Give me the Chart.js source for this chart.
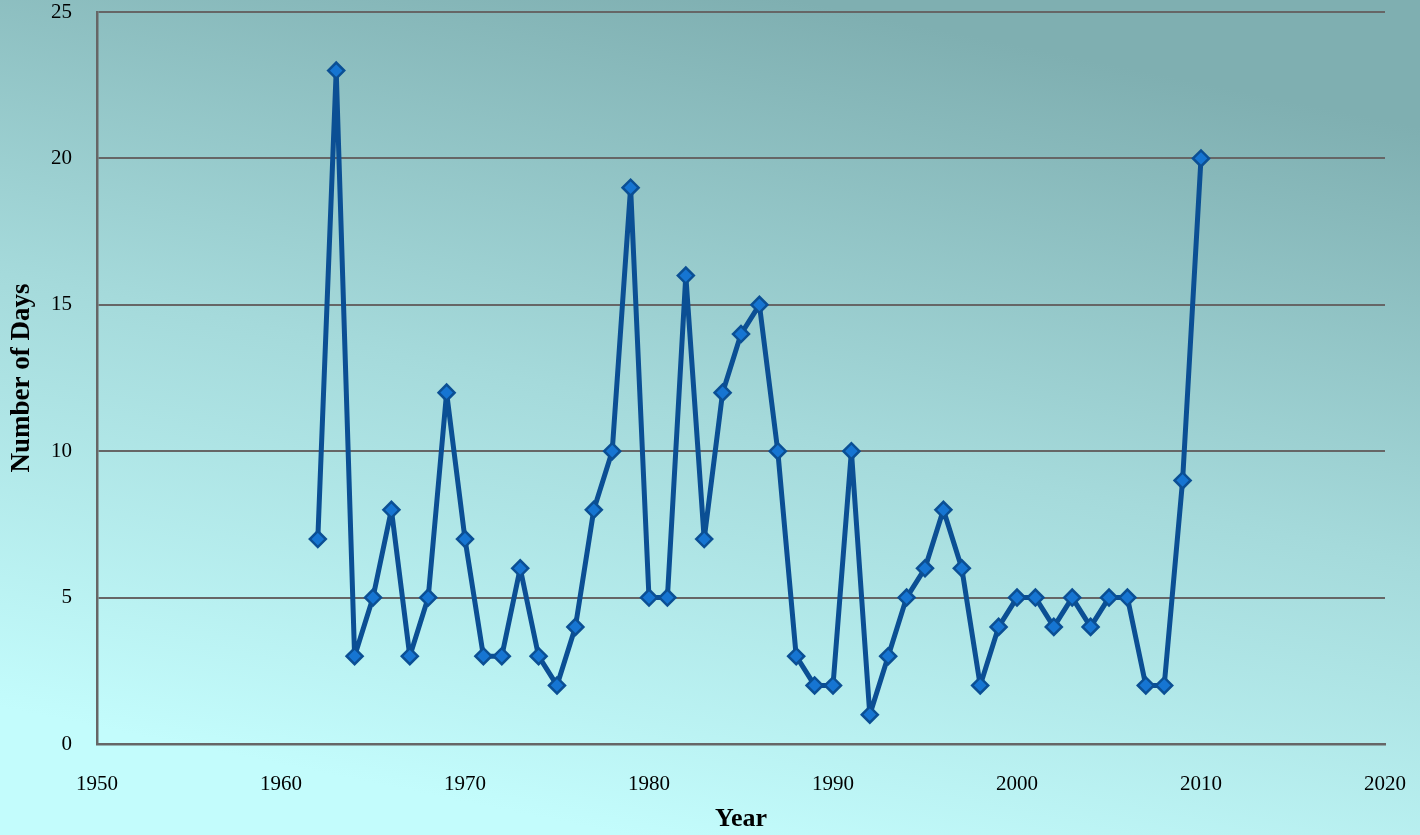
<!DOCTYPE html>
<html lang="en">
<head>
  <meta charset="utf-8">
  <title>Number of Days per Year</title>
  <script src="https://cdn.jsdelivr.net/npm/chart.js@4/dist/chart.umd.min.js"></script>
  <style>
    html, body { margin: 0; padding: 0; background: #c2fafa; }
    #wrap { width: 1420px; height: 835px; }
  </style>
</head>
<body>
  <div id="wrap">
    <canvas id="mychart" width="1420" height="835"></canvas>
  </div>

  <script>
    // values
    var years = [1962, 1963, 1964, 1965, 1966, 1967, 1968, 1969, 1970, 1971,
                 1972, 1973, 1974, 1975, 1976, 1977, 1978, 1979, 1980, 1981,
                 1982, 1983, 1984, 1985, 1986, 1987, 1988, 1989, 1990, 1991,
                 1992, 1993, 1994, 1995, 1996, 1997, 1998, 1999, 2000, 2001,
                 2002, 2003, 2004, 2005, 2006, 2007, 2008, 2009, 2010];
    var days = [7, 23, 3, 5, 8, 3, 5, 12, 7, 3,
                3, 6, 3, 2, 4, 8, 10, 19, 5, 5,
                16, 7, 12, 14, 15, 10, 3, 2, 2, 10,
                1, 3, 5, 6, 8, 6, 2, 4, 5, 5,
                4, 5, 4, 5, 5, 2, 2, 9, 20];
    var xTicks = [1950, 1960, 1970, 1980, 1990, 2000, 2010, 2020];
    var yTicks = [0, 5, 10, 15, 20, 25];

    var points = [];
    for (var i = 0; i < years.length; i++) {
      points.push({ x: years[i], y: days[i] });
    }

    var serif = "'Liberation Serif', 'DejaVu Serif', serif";

    // whole-canvas gradient behind the chart
    var bgPlugin = {
      id: 'bg',
      beforeDraw: function (chart) {
        var c = chart.ctx;
        var g = c.createLinearGradient(chart.width * 0.56, 0, chart.width * 0.44, chart.height);
        g.addColorStop(0, '#7fafb1');
        g.addColorStop(0.5, '#a5dadb');
        g.addColorStop(1, '#c3fcfc');
        c.save();
        c.fillStyle = g;
        c.fillRect(0, 0, chart.width, chart.height);
        c.restore();
      }
    };

    var ctx = document.getElementById('mychart').getContext('2d');
    var chart = new Chart(ctx, {
      type: 'line',
      data: {
        datasets: [{
          label: 'Number of Days',
          data: points,
          borderColor: '#0b4f94',
          borderWidth: 5,
          borderJoinStyle: 'bevel',
          tension: 0,
          pointStyle: 'rectRot',
          pointRadius: 8,
          pointBorderWidth: 2.5,
          pointBackgroundColor: '#1675d2',
          pointBorderColor: '#0b4f94'
        }]
      },
      plugins: [bgPlugin],
      options: {
        responsive: false,
        animation: false,
        layout: {
          autoPadding: false,
          padding: { top: 12, right: 35, bottom: 0, left: 0 }
        },
        plugins: {
          legend: { display: false },
          tooltip: { enabled: false }
        },
        scales: {
          x: {
            type: 'linear',
            min: 1950,
            max: 2020,
            afterBuildTicks: function (axis) {
              axis.ticks = xTicks.map(function (v) { return { value: v }; });
            },
            grid: { display: false },
            border: { display: true, color: '#666666', width: 2.5 },
            ticks: {
              color: '#000',
              padding: 20,
              maxRotation: 0,
              font: { family: serif, size: 21 },
              callback: function (v) { return String(v); }
            },
            title: {
              display: true,
              text: 'Year',
              color: '#000',
              padding: { top: 4, bottom: 0 },
              font: { family: serif, size: 26, weight: 'bold' }
            },
            afterFit: function (axis) {
              axis.height = 91;
              // label overflow should not shrink the plot
              axis.paddingLeft = 0;
              axis.paddingRight = 0;
            }
          },
          y: {
            min: 0,
            max: 25,
            afterBuildTicks: function (axis) {
              axis.ticks = yTicks.map(function (v) { return { value: v }; });
            },
            grid: { color: '#666666', lineWidth: 2, drawTicks: false },
            border: { display: true, color: '#666666', width: 2.5 },
            ticks: {
              color: '#000',
              padding: 25,
              font: { family: serif, size: 21 }
            },
            title: {
              display: true,
              text: 'Number of Days',
              color: '#000',
              padding: { top: 6, bottom: 0 },
              font: { family: serif, size: 27, weight: 'bold' }
            },
            afterFit: function (axis) {
              axis.width = 97;
              axis.paddingTop = 0;
              axis.paddingBottom = 0;
            }
          }
        }
      }
    });
  </script>
</body>
</html>
